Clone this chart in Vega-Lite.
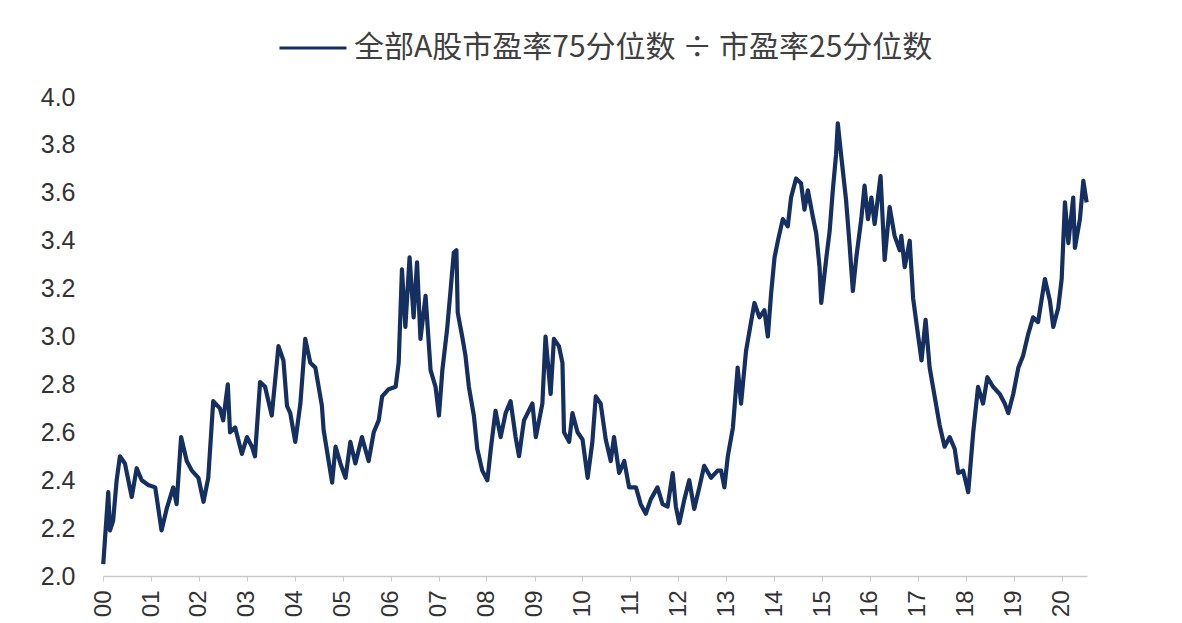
{
  "$schema": "https://vega.github.io/schema/vega-lite/v6.json",
  "width": 984,
  "height": 479,
  "autosize": {"type": "none"},
  "padding": {"left": 103, "top": 97, "right": 95, "bottom": 47},
  "background": "#ffffff",
  "config": {
    "view": {"stroke": null},
    "font": "Liberation Sans"
  },
  "data": {
    "values": [
      {"date": "2000-01-03", "value": 2.05}, {"date": "2000-02-10", "value": 2.35}, {"date": "2000-02-23", "value": 2.19},
      {"date": "2000-03-18", "value": 2.23}, {"date": "2000-04-14", "value": 2.40}, {"date": "2000-05-09", "value": 2.50},
      {"date": "2000-06-16", "value": 2.47}, {"date": "2000-08-07", "value": 2.33}, {"date": "2000-09-14", "value": 2.45},
      {"date": "2000-10-22", "value": 2.40}, {"date": "2000-12-11", "value": 2.38}, {"date": "2001-02-02", "value": 2.37},
      {"date": "2001-03-22", "value": 2.19}, {"date": "2001-04-30", "value": 2.28}, {"date": "2001-06-19", "value": 2.37},
      {"date": "2001-07-15", "value": 2.30}, {"date": "2001-08-18", "value": 2.58}, {"date": "2001-09-30", "value": 2.48},
      {"date": "2001-11-08", "value": 2.44}, {"date": "2001-12-28", "value": 2.41}, {"date": "2002-02-05", "value": 2.31},
      {"date": "2002-03-13", "value": 2.41}, {"date": "2002-04-20", "value": 2.73}, {"date": "2002-06-10", "value": 2.70},
      {"date": "2002-07-05", "value": 2.65}, {"date": "2002-08-09", "value": 2.80}, {"date": "2002-08-26", "value": 2.60},
      {"date": "2002-10-04", "value": 2.62}, {"date": "2002-11-24", "value": 2.51}, {"date": "2003-01-02", "value": 2.58},
      {"date": "2003-02-09", "value": 2.54}, {"date": "2003-03-04", "value": 2.50}, {"date": "2003-04-12", "value": 2.81},
      {"date": "2003-05-20", "value": 2.79}, {"date": "2003-07-10", "value": 2.67}, {"date": "2003-08-30", "value": 2.96},
      {"date": "2003-10-07", "value": 2.90}, {"date": "2003-11-03", "value": 2.71}, {"date": "2003-11-28", "value": 2.68},
      {"date": "2004-01-05", "value": 2.56}, {"date": "2004-02-13", "value": 2.72}, {"date": "2004-03-21", "value": 2.99},
      {"date": "2004-04-29", "value": 2.89}, {"date": "2004-06-06", "value": 2.87}, {"date": "2004-07-26", "value": 2.71},
      {"date": "2004-08-08", "value": 2.61}, {"date": "2004-10-12", "value": 2.39}, {"date": "2004-11-07", "value": 2.54},
      {"date": "2004-12-14", "value": 2.47}, {"date": "2005-01-22", "value": 2.41}, {"date": "2005-02-28", "value": 2.56},
      {"date": "2005-04-07", "value": 2.47}, {"date": "2005-05-27", "value": 2.58}, {"date": "2005-07-17", "value": 2.48},
      {"date": "2005-08-25", "value": 2.60}, {"date": "2005-10-02", "value": 2.65}, {"date": "2005-10-28", "value": 2.75},
      {"date": "2005-12-17", "value": 2.78}, {"date": "2006-02-08", "value": 2.79}, {"date": "2006-03-03", "value": 2.89},
      {"date": "2006-03-28", "value": 3.28}, {"date": "2006-04-23", "value": 3.04}, {"date": "2006-05-25", "value": 3.33},
      {"date": "2006-06-25", "value": 3.08}, {"date": "2006-07-21", "value": 3.31}, {"date": "2006-08-16", "value": 2.99},
      {"date": "2006-09-24", "value": 3.17}, {"date": "2006-11-01", "value": 2.86}, {"date": "2006-12-09", "value": 2.79},
      {"date": "2007-01-04", "value": 2.67}, {"date": "2007-01-30", "value": 2.86}, {"date": "2007-03-07", "value": 3.03},
      {"date": "2007-04-02", "value": 3.19}, {"date": "2007-04-27", "value": 3.35}, {"date": "2007-05-17", "value": 3.36},
      {"date": "2007-05-27", "value": 3.10}, {"date": "2007-06-30", "value": 3.00}, {"date": "2007-07-25", "value": 2.92},
      {"date": "2007-08-20", "value": 2.79}, {"date": "2007-09-27", "value": 2.67}, {"date": "2007-10-23", "value": 2.53},
      {"date": "2007-11-30", "value": 2.44}, {"date": "2008-01-08", "value": 2.40}, {"date": "2008-02-03", "value": 2.53},
      {"date": "2008-03-10", "value": 2.69}, {"date": "2008-04-18", "value": 2.58}, {"date": "2008-05-26", "value": 2.68},
      {"date": "2008-07-03", "value": 2.73}, {"date": "2008-08-10", "value": 2.58}, {"date": "2008-09-05", "value": 2.50},
      {"date": "2008-10-13", "value": 2.65}, {"date": "2008-12-16", "value": 2.72}, {"date": "2009-01-11", "value": 2.58},
      {"date": "2009-03-02", "value": 2.72}, {"date": "2009-03-26", "value": 3.00}, {"date": "2009-05-04", "value": 2.76},
      {"date": "2009-05-29", "value": 2.99}, {"date": "2009-07-06", "value": 2.96}, {"date": "2009-08-02", "value": 2.89},
      {"date": "2009-08-14", "value": 2.60}, {"date": "2009-09-22", "value": 2.56}, {"date": "2009-10-17", "value": 2.68},
      {"date": "2009-11-25", "value": 2.60}, {"date": "2010-01-02", "value": 2.57}, {"date": "2010-02-10", "value": 2.41},
      {"date": "2010-03-18", "value": 2.56}, {"date": "2010-04-13", "value": 2.75}, {"date": "2010-05-20", "value": 2.72},
      {"date": "2010-06-28", "value": 2.57}, {"date": "2010-08-05", "value": 2.48}, {"date": "2010-08-30", "value": 2.58},
      {"date": "2010-10-08", "value": 2.43}, {"date": "2010-11-16", "value": 2.48}, {"date": "2010-12-23", "value": 2.37},
      {"date": "2011-02-13", "value": 2.37}, {"date": "2011-03-21", "value": 2.30}, {"date": "2011-04-29", "value": 2.26},
      {"date": "2011-06-06", "value": 2.32}, {"date": "2011-07-27", "value": 2.37}, {"date": "2011-09-04", "value": 2.30},
      {"date": "2011-10-12", "value": 2.29}, {"date": "2011-11-20", "value": 2.43}, {"date": "2011-12-14", "value": 2.29},
      {"date": "2012-01-09", "value": 2.22}, {"date": "2012-02-17", "value": 2.32}, {"date": "2012-03-25", "value": 2.40},
      {"date": "2012-05-02", "value": 2.28}, {"date": "2012-06-10", "value": 2.37}, {"date": "2012-07-17", "value": 2.46},
      {"date": "2012-09-07", "value": 2.41}, {"date": "2012-10-28", "value": 2.44}, {"date": "2012-11-23", "value": 2.44},
      {"date": "2012-12-18", "value": 2.37}, {"date": "2013-01-13", "value": 2.50}, {"date": "2013-02-21", "value": 2.62},
      {"date": "2013-03-29", "value": 2.87}, {"date": "2013-04-24", "value": 2.72}, {"date": "2013-06-01", "value": 2.94},
      {"date": "2013-07-09", "value": 3.06}, {"date": "2013-08-04", "value": 3.14}, {"date": "2013-09-11", "value": 3.08},
      {"date": "2013-10-19", "value": 3.11}, {"date": "2013-11-14", "value": 3.00}, {"date": "2013-12-09", "value": 3.18},
      {"date": "2014-01-04", "value": 3.33}, {"date": "2014-01-30", "value": 3.40}, {"date": "2014-03-08", "value": 3.49},
      {"date": "2014-04-15", "value": 3.46}, {"date": "2014-05-10", "value": 3.58}, {"date": "2014-06-17", "value": 3.66},
      {"date": "2014-07-25", "value": 3.64}, {"date": "2014-08-20", "value": 3.53}, {"date": "2014-09-15", "value": 3.61},
      {"date": "2014-10-23", "value": 3.50}, {"date": "2014-11-18", "value": 3.43}, {"date": "2014-12-13", "value": 3.29},
      {"date": "2014-12-26", "value": 3.14}, {"date": "2015-02-03", "value": 3.33}, {"date": "2015-02-28", "value": 3.44},
      {"date": "2015-03-24", "value": 3.61}, {"date": "2015-04-18", "value": 3.76}, {"date": "2015-05-01", "value": 3.89},
      {"date": "2015-05-26", "value": 3.76}, {"date": "2015-07-03", "value": 3.57}, {"date": "2015-07-29", "value": 3.39},
      {"date": "2015-08-24", "value": 3.19}, {"date": "2015-09-19", "value": 3.33}, {"date": "2015-10-27", "value": 3.49},
      {"date": "2015-11-21", "value": 3.63}, {"date": "2015-12-17", "value": 3.49}, {"date": "2016-01-12", "value": 3.58},
      {"date": "2016-02-06", "value": 3.47}, {"date": "2016-03-22", "value": 3.67}, {"date": "2016-04-22", "value": 3.32},
      {"date": "2016-05-30", "value": 3.54}, {"date": "2016-07-07", "value": 3.42}, {"date": "2016-08-15", "value": 3.36},
      {"date": "2016-08-27", "value": 3.42}, {"date": "2016-09-22", "value": 3.29}, {"date": "2016-10-30", "value": 3.40},
      {"date": "2016-11-25", "value": 3.16}, {"date": "2017-01-03", "value": 3.00}, {"date": "2017-01-28", "value": 2.90},
      {"date": "2017-02-28", "value": 3.07}, {"date": "2017-03-31", "value": 2.87}, {"date": "2017-05-08", "value": 2.75},
      {"date": "2017-06-15", "value": 2.63}, {"date": "2017-07-23", "value": 2.54}, {"date": "2017-08-31", "value": 2.58},
      {"date": "2017-10-08", "value": 2.53}, {"date": "2017-11-04", "value": 2.43}, {"date": "2017-12-11", "value": 2.44},
      {"date": "2018-01-19", "value": 2.35}, {"date": "2018-02-26", "value": 2.60}, {"date": "2018-04-04", "value": 2.79},
      {"date": "2018-05-12", "value": 2.72}, {"date": "2018-06-14", "value": 2.83}, {"date": "2018-07-27", "value": 2.79},
      {"date": "2018-09-16", "value": 2.76}, {"date": "2018-10-24", "value": 2.72}, {"date": "2018-11-20", "value": 2.68},
      {"date": "2018-12-28", "value": 2.76}, {"date": "2019-02-05", "value": 2.87}, {"date": "2019-03-13", "value": 2.92},
      {"date": "2019-04-21", "value": 3.01}, {"date": "2019-05-28", "value": 3.08}, {"date": "2019-07-05", "value": 3.06},
      {"date": "2019-08-26", "value": 3.24}, {"date": "2019-10-03", "value": 3.15}, {"date": "2019-10-29", "value": 3.04},
      {"date": "2019-12-06", "value": 3.12}, {"date": "2020-01-01", "value": 3.24}, {"date": "2020-01-26", "value": 3.56},
      {"date": "2020-02-21", "value": 3.39}, {"date": "2020-03-29", "value": 3.58}, {"date": "2020-04-11", "value": 3.37},
      {"date": "2020-05-19", "value": 3.49}, {"date": "2020-06-14", "value": 3.65}, {"date": "2020-07-09", "value": 3.56}
    ]
  },
  "transform": [
    {"calculate": "'全部A股市盈率75分位数 ÷ 市盈率25分位数'", "as": "series"}
  ],
  "mark": {"type": "line", "strokeWidth": 4.2, "strokeJoin": "round"},
  "encoding": {
    "x": {
      "field": "date",
      "type": "temporal",
      "scale": {
        "domain": [
          {"year": 2000, "month": 1, "date": 1, "utc": true},
          {"year": 2020, "month": 7, "date": 12, "utc": true}
        ],
        "nice": false
      },
      "axis": {
        "title": null,
        "format": "%y",
        "tickCount": {"interval": "year", "step": 1},
        "labelAngle": -90,
        "labelFontSize": 24,
        "labelColor": "#333333",
        "labelPadding": 9,
        "tickSize": 5,
        "tickColor": "#cccccc",
        "domainColor": "#c8c8c8",
        "domainWidth": 1.5,
        "grid": false,
        "labelOverlap": false
      }
    },
    "y": {
      "field": "value",
      "type": "quantitative",
      "scale": {"domain": [2.0, 4.0], "nice": false, "zero": false},
      "axis": {
        "title": null,
        "values": [2.0, 2.2, 2.4, 2.6, 2.8, 3.0, 3.2, 3.4, 3.6, 3.8, 4.0],
        "format": ".1f",
        "labelFontSize": 25,
        "labelColor": "#333333",
        "labelPadding": 28,
        "ticks": false,
        "tickSize": 0,
        "domain": false,
        "grid": false
      }
    },
    "color": {
      "field": "series",
      "type": "nominal",
      "scale": {"range": ["#152f60"]},
      "legend": {
        "title": null,
        "orient": "none",
        "legendX": 175,
        "legendY": -84,
        "symbolType": "stroke",
        "symbolSize": 4489,
        "symbolStrokeWidth": 3,
        "labelFont": "Noto Sans CJK SC",
        "labelFontSize": 30,
        "labelColor": "#404040",
        "labelLimit": 900,
        "labelOffset": 6
      }
    }
  }
}
